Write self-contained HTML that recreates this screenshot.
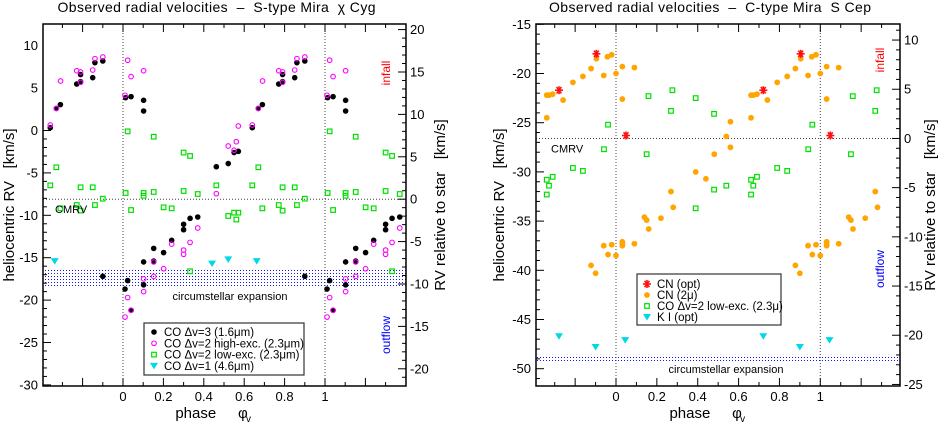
<!DOCTYPE html>
<html><head><meta charset="utf-8"><style>
body{margin:0;background:#fff}
svg{display:block;font-family:"Liberation Sans",sans-serif}
text{white-space:pre}
</style></head><body>
<svg id="s" width="943" height="424" viewBox="0 0 943 424" xmlns="http://www.w3.org/2000/svg">
<defs>
<pattern id="dots" width="3" height="3" patternUnits="userSpaceOnUse"><rect x="0" y="0" width="1" height="1" fill="#1010ff"/></pattern>
</defs>
</svg>
<script>
// ===== Left chart (chi Cyg) data =====
const L_blackPhase=[0.013,0.04,0.102,0.102,0.462,0.332,0.37,0.30,0.30,0.241,0.152,0.201,0.102,0.152,0.023,0.01,0.102,0.04,0.521,0.55,0.571,0.64,0.67,0.69,0.771,0.79,0.79,0.85,0.861,0.90,0.90];
const L_blackRV=[3.87,3.99,3.56,2.30,-4.27,-10.36,-10.2,-11.06,-11.7,-12.95,-13.9,-14.4,-15.5,-15.4,-17.7,-18.7,-18.2,-21.2,-3.9,-2.6,-2.46,0.33,2.6,3.05,5.48,5.76,6.6,6.23,8.0,8.2,-17.2];
const L_magPhase=[0.023,0.04,0.102,0.01,0.462,0.37,0.332,0.241,0.30,0.30,0.152,0.201,0.152,0.102,0.102,0.023,0.04,0.01,0.521,0.561,0.55,0.571,0.64,0.67,0.691,0.771,0.79,0.79,0.85,0.861,0.90];
const L_magRV=[8.28,6.35,7.05,4.15,-7.45,-11.5,-13.2,-13.4,-14.1,-14.6,-15.5,-16.3,-17.2,-17.5,-19.0,-19.7,-21.2,-22.0,-1.83,-1.32,-2.33,0.53,0.65,2.6,5.84,7.05,6.9,5.68,7.13,8.47,8.67];
const L_greenPhase=[0.023,0.152,0.30,0.332,0.462,0.013,0.102,0.102,0.152,0.30,0.37,0.04,0.201,0.241,0.332,0.521,0.55,0.571,0.561,0.64,0.67,0.69,0.771,0.79,0.79,0.85,0.861,0.90];
const L_greenRV=[-0.1,-0.73,-2.6,-3.0,-6.47,-7.37,-7.37,-7.7,-7.25,-7.13,-7.49,-9.38,-9.06,-9.18,-16.6,-10.08,-9.69,-9.69,-10.5,-6.47,-4.34,-9.18,-8.79,-6.7,-9.45,-6.7,-8.79,-8.04];
const L_cyanPhase=[0.441,0.521,0.662];
const L_cyanRV=[-15.7,-15.2,-15.4];
const L_leftTicks=[10,5,0,-5,-10,-15,-20,-25,-30];
const L_rightTicks=[20,15,10,5,0,-5,-10,-15,-20];
const L_cmrv=-8.1;
// ===== Right chart (S Cep) data =====
const R_orangePhase=[0.958,0.979,0.031,0.09,0.0,0.031,0.481,0.39,0.44,0.269,0.28,0.139,0.15,0.22,0.16,0.031,0.031,0.031,0.09,0.0,0.904,0.878,0.94,0.838,0.789,0.661,0.672,0.69,0.741,0.661,0.56,0.54,0.56,0.94,0.979,0.961,0.878,0.9];
const R_orangeRV=[-18.3,-18.1,-19.3,-19.4,-20.0,-22.6,-28.2,-30.0,-30.7,-32.0,-33.6,-34.6,-34.9,-34.7,-35.8,-37.1,-37.3,-37.5,-37.3,-38.5,-18.5,-19.5,-20.2,-20.3,-20.9,-22.2,-22.2,-22.1,-22.7,-24.5,-24.9,-26.4,-27.5,-37.5,-37.4,-38.4,-39.5,-40.3];
const R_redPhase=[0.904,0.721,0.049];
const R_redRV=[-18.0,-21.7,-26.3];
const R_greenPhase=[0.159,0.276,0.39,0.269,0.48,0.15,0.48,0.39,0.961,0.941,0.789,0.838,0.69,0.661,0.672,0.661,0.54];
const R_greenRV=[-22.3,-21.7,-22.5,-23.8,-24.1,-28.2,-31.8,-33.7,-25.2,-27.7,-29.6,-29.9,-30.5,-30.8,-31.4,-32.3,-31.4];
const R_cyanPhase=[0.721,0.9,0.045];
const R_cyanRV=[-46.7,-47.8,-47.1];
const R_leftTicks=[-15,-20,-25,-30,-35,-40,-45,-50];
const R_rightTicks=[10,5,0,-5,-10,-15,-20,-25];
const R_cmrv=-26.6;
const phaseLabels=[0,0.2,0.4,0.6,0.8,1];

const S=document.getElementById('s');
const NS='http://www.w3.org/2000/svg';
function mk(tag,attrs,parent){const e=document.createElementNS(NS,tag);for(const k in attrs)e.setAttribute(k,attrs[k]);(parent||S).appendChild(e);return e;}
function txt(str,attrs,parent){const e=mk('text',attrs,parent);e.textContent=str;return e;}
function star(x,y,parent){const g=mk('g',{stroke:'#ff1010','stroke-width':1.6},parent);const r=4;
  mk('line',{x1:x-r,y1:y,x2:x+r,y2:y},g);
  mk('line',{x1:x-r*0.6,y1:y-r*0.8,x2:x+r*0.6,y2:y+r*0.8},g);
  mk('line',{x1:x-r*0.6,y1:y+r*0.8,x2:x+r*0.6,y2:y-r*0.8},g);
  mk('line',{x1:x,y1:y-r,x2:x,y2:y+r},g);
  return g;}

function marker(kind,x,y,g){
  if(kind==='black')return mk('circle',{cx:x,cy:y,r:2.8,fill:'#000'},g);
  if(kind==='orange')return mk('circle',{cx:x,cy:y,r:2.9,fill:'#ffa500'},g);
  if(kind==='mag')return mk('circle',{cx:x,cy:y,r:2.3,fill:'none',stroke:'#ff00ff','stroke-width':1.1},g);
  if(kind==='green')return mk('rect',{x:x-2.3,y:y-2.3,width:4.6,height:4.6,fill:'none',stroke:'#00e000','stroke-width':1.2},g);
  if(kind==='cyan')return mk('path',{d:`M${x-4},${y-3}L${x+4},${y-3}L${x},${y+3.5}Z`,fill:'#00d8e8'},g);
  return star(x,y,g);
}

function chart(cfg){
  const g=mk('g',{});
  
  
  const X=p=>cfg.x0+cfg.xs*p, Y=v=>cfg.yTop+(cfg.vTop-v)*cfg.ys;
  const L=cfg.fl,R=cfg.fr,T=cfg.ft,B=cfg.fb;
  const band=mk('rect',{x:L,y:Y(cfg.bandTop),width:R-L,height:Y(cfg.bandBot)-Y(cfg.bandTop),fill:'url(#dots)'},g);
  
  
  for(const p of [0,1]){const l=mk('line',{x1:X(p),x2:X(p),y1:T,y2:B,stroke:'#444','stroke-width':1,'stroke-dasharray':'1,2'},g);
    }
  const cm=mk('line',{x1:L,x2:R,y1:Y(cfg.cmrv),y2:Y(cfg.cmrv),stroke:'#444','stroke-width':1,'stroke-dasharray':'1,2'},g);
  
  const fr=mk('rect',{x:L,y:T,width:R-L,height:B-T,fill:'none',stroke:'#000','stroke-width':1.5},g);
  
  for(let i=-5;i<=15;i++){const p=i/10,x=X(p);if(x<L+1||x>R-1)continue;const len=(i%2===0)?8:4;
    mk('line',{x1:x,x2:x,y1:B,y2:B-len,stroke:'#000','stroke-width':1},g);
    mk('line',{x1:x,x2:x,y1:T,y2:T+len,stroke:'#000','stroke-width':1},g);}
  for(const p of phaseLabels){const t=txt(String(p),{x:X(p),y:B+15,'font-size':13,'text-anchor':'middle'},g);
    }
  for(let v=Math.ceil(cfg.vBot);v<=cfg.vTop;v++){const y=Y(v);if(y<T||y>B)continue;const len=(v%5===0)?8:4;
    mk('line',{x1:L,x2:L+len,y1:y,y2:y,stroke:'#000','stroke-width':1},g);}
  for(const v of cfg.leftTicks){const t=txt(String(v),{x:L-5,y:Y(v)+4.5,'font-size':13,'text-anchor':'end'},g);
    }
  const Yr=r=>Y(r+cfg.cmrv);
  for(let r=-40;r<=40;r++){const y=Yr(r);if(y<T+1||y>B-1)continue;const len=(r%5===0)?8:4;
    mk('line',{x1:R,x2:R-len,y1:y,y2:y,stroke:'#000','stroke-width':1},g);}
  for(const r of cfg.rightTicks){const t=txt(String(r),{x:R+4,y:Yr(r)+4.5,'font-size':13},g);
    }
  function plot(ph,vals,kind,sname){
    for(let i=0;i<ph.length;i++){for(const k of [-1,0,1]){const x=X(ph[i]+k),y=Y(vals[i]);if(x<L+1||x>R-1)continue;
      const e=marker(kind,x,y,g);
      
      
    }}
  }
  for(const s of cfg.series)plot(s[0],s[1],s[2],s[3]);
  const lab=(str,a,name)=>{const t=txt(str,a,g);return t;};
  lab(cfg.title,{x:(L+R)/2-8,y:12,'font-size':14,'text-anchor':'middle',textLength:cfg.titleLen},'chart-title');
  lab('CMRV',{x:cfg.cmrvX,y:Y(cfg.cmrv)+14,'font-size':11},'cmrv-label');
  lab('circumstellar expansion',{x:cfg.ceX,y:cfg.ceY,'font-size':11,'text-anchor':'middle'},'circumstellar-expansion-label');
  lab('infall',{x:0,y:0,'font-size':12,fill:'#ff0000','text-anchor':'middle',transform:`translate(${R-16},${cfg.infallY}) rotate(-90)`},'infall-label');
  lab('outflow',{x:0,y:0,'font-size':12,fill:'#0000ff','text-anchor':'middle',transform:`translate(${R-16},${cfg.outflowY}) rotate(-90)`},'outflow-label');
  lab('heliocentric RV   [km/s]',{x:0,y:0,'font-size':15,'text-anchor':'middle',transform:`translate(${cfg.ylX},${(T+B)/2}) rotate(-90)`},'left-y-axis-title');
  lab('RV relative to star   [km/s]',{x:0,y:0,'font-size':15,'text-anchor':'middle',transform:`translate(${cfg.yrX},${(T+B)/2}) rotate(-90)`},'right-y-axis-title');
  lab('phase   ',{x:X(0.5)-22,y:418,'font-size':15,'text-anchor':'middle'},'x-axis-title');
  lab('φ',{x:X(0.5)+14,y:418,'font-size':15},'x-axis-phi');
  lab('v',{x:X(0.5)+22,y:422,'font-size':10},'x-axis-phi-subscript');
  const lg=mk('g',{},g);
  mk('rect',{x:cfg.lg[0],y:cfg.lg[1],width:cfg.lg[2],height:cfg.lg[3],fill:'#fff',stroke:'#333','stroke-width':1.2},lg);
  cfg.legend.forEach((it,i)=>{const y=cfg.lg[1]+cfg.lgStart+i*cfg.lgStep,sx=cfg.lg[0]+10;
    const m=marker(it[1],sx,y,lg);
    
    const t=txt(it[0],{x:sx+10,y:y+4,'font-size':11.5},lg);
    
  });
}

chart({name:'chi-cyg-chart',x0:123,xs:202,yTop:130.5,vTop:0,ys:8.48,fl:43,fr:406,ft:24,fb:386,vBot:-30.2,
  cmrv:L_cmrv,bandTop:-16.3,bandBot:-18.4,leftTicks:L_leftTicks,rightTicks:L_rightTicks,
  series:[[L_greenPhase,L_greenRV,'green','co-dv2-low-point'],[L_blackPhase,L_blackRV,'black','co-dv3-point'],[L_magPhase,L_magRV,'mag','co-dv2-high-point'],[L_cyanPhase,L_cyanRV,'cyan','co-dv1-point']],
  title:'Observed radial velocities  –  S-type Mira  χ Cyg',titleLen:318,cmrvX:55,ceX:230,ceY:300,infallY:73,outflowY:335,ylX:14,yrX:445,
  lg:[144,323,160,52],lgStart:9,lgStep:11.3,
  legend:[['CO Δv=3 (1.6μm)','black'],['CO Δv=2 high-exc. (2.3μm)','mag'],['CO Δv=2 low-exc. (2.3μm)','green'],['CO Δv=1 (4.6μm)','cyan']]});
chart({name:'s-cep-chart',x0:616,xs:204.3,yTop:24.3,vTop:-15,ys:9.84,fl:536,fr:900,ft:24,fb:386,vBot:-51.7,
  cmrv:R_cmrv,bandTop:-48.6,bandBot:-49.3,leftTicks:R_leftTicks,rightTicks:R_rightTicks,
  series:[[R_greenPhase,R_greenRV,'green','co-dv2-low-point'],[R_orangePhase,R_orangeRV,'orange','cn-2mu-point'],[R_redPhase,R_redRV,'red','cn-opt-point'],[R_cyanPhase,R_cyanRV,'cyan','k-i-point']],
  title:'Observed radial velocities  –  C-type Mira  S Cep',titleLen:322,cmrvX:551,ceX:726,ceY:373,infallY:60,outflowY:269,ylX:504,yrX:935,
  lg:[637,274,144,51],lgStart:10,lgStep:11,
  legend:[['CN (opt)','red'],['CN (2μ)','orange'],['CO Δv=2 low-exc. (2.3μ)','green'],['K I (opt)','cyan']]});
</script>
</body></html>
